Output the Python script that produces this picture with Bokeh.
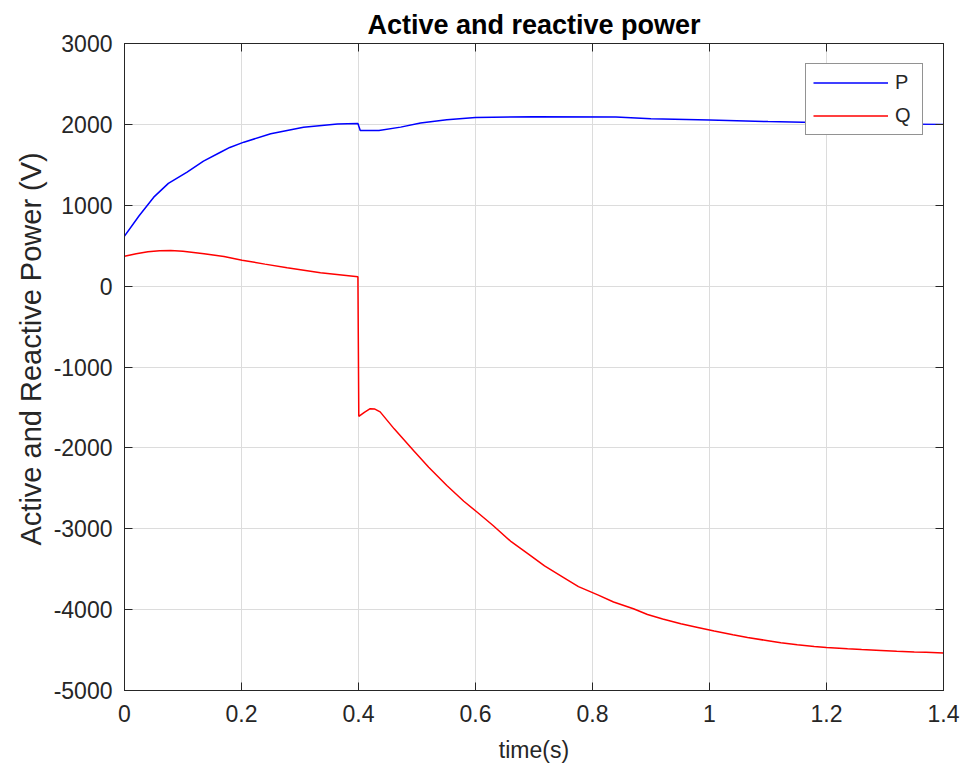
from bokeh.plotting import figure
from bokeh.models import LinearAxis, Range1d, Legend, LegendItem, FixedTicker, Title
from bokeh.embed import file_html
from bokeh.resources import INLINE

# ---- data ----
t_p = [0.0, 0.025, 0.05, 0.075, 0.107, 0.135, 0.164, 0.18, 0.204, 0.25, 0.306,
       0.364, 0.399, 0.403, 0.435, 0.472, 0.506, 0.551, 0.6, 0.7, 0.84, 0.9,
       1.0, 1.1, 1.2, 1.3, 1.4]
p_vals = [620, 870, 1100, 1270, 1410, 1545, 1655, 1715, 1780, 1883, 1965,
          2005, 2012, 1925, 1925, 1966, 2016, 2057, 2085, 2095, 2090, 2070,
          2055, 2035, 2020, 2005, 2000]

t_q = [0.0, 0.02, 0.04, 0.06, 0.079, 0.1, 0.136, 0.17, 0.201, 0.24, 0.278,
       0.335, 0.399, 0.4005, 0.41, 0.42, 0.428, 0.437, 0.461, 0.494, 0.52,
       0.551, 0.58, 0.603, 0.63, 0.661, 0.69, 0.718, 0.75, 0.776, 0.81, 0.836,
       0.87, 0.894, 0.92, 0.951, 0.98, 1.008, 1.04, 1.065, 1.1, 1.122, 1.15,
       1.179, 1.2, 1.236, 1.26, 1.293, 1.32, 1.35, 1.37, 1.4]
q_vals = [370, 400, 425, 438, 441, 432, 400, 365, 321, 272, 226,
          165, 115, -1610, -1560, -1515, -1520, -1555, -1765, -2033, -2240,
          -2466, -2660, -2796, -2960, -3160, -3310, -3460, -3600, -3715, -3820, -3905,
          -3990, -4060, -4115, -4175, -4220, -4265, -4310, -4345, -4385, -4410, -4435,
          -4455, -4468, -4485, -4494, -4505, -4514, -4523, -4528, -4535]

x_ticks = [0, 0.2, 0.4, 0.6, 0.8, 1.0, 1.2, 1.4]
x_tick_labels = ["0", "0.2", "0.4", "0.6", "0.8", "1", "1.2", "1.4"]
y_ticks = [-5000, -4000, -3000, -2000, -1000, 0, 1000, 2000, 3000]
y_tick_labels = ["-5000", "-4000", "-3000", "-2000", "-1000", "0", "1000", "2000", "3000"]

FONT = "Liberation Sans"
TXT = "#262626"

p = figure(width=966, height=773, output_backend="svg", toolbar_location=None,
           x_range=Range1d(0, 1.4), y_range=Range1d(-5000, 3000),
           min_border_left=124, min_border_right=23, min_border_top=43,
           min_border_bottom=83, background_fill_color="white",
           border_fill_color="white")

p.title.text = "Active and reactive power"
p.title.align = "center"
p.title.vertical_align = "top"
p.title.text_font = FONT
p.title.text_font_size = "27px"
p.title.text_font_style = "bold"
p.title.text_color = "black"
p.title.standoff = 4

p.outline_line_color = TXT
p.outline_line_width = 1

for ax in (p.xaxis[0], p.yaxis[0]):
    ax.major_tick_in = 8
    ax.major_tick_out = 0
    ax.minor_tick_line_color = None
    ax.axis_line_color = TXT
    ax.major_tick_line_color = TXT
    ax.major_label_text_font = FONT
    ax.major_label_text_font_size = "23px"
    ax.major_label_text_color = TXT
    ax.axis_label_text_font = FONT
    ax.axis_label_text_font_size = "23px"
    ax.axis_label_text_font_style = "normal"
    ax.axis_label_text_color = TXT

p.xaxis[0].ticker = FixedTicker(ticks=x_ticks)
p.xaxis[0].major_label_overrides = dict(zip(x_ticks, x_tick_labels))
p.yaxis[0].ticker = FixedTicker(ticks=y_ticks)
p.yaxis[0].major_label_overrides = dict(zip(y_ticks, y_tick_labels))
p.xaxis[0].axis_label = "time(s)"
p.xaxis[0].major_label_standoff = 14
p.yaxis[0].major_label_standoff = 12
p.xaxis[0].axis_label_standoff = 12

# y-axis label as a left title so it can be placed like the reference
ylab = Title(text="Active and Reactive Power (V)", align="left", offset=145,
             vertical_align="top",
             text_font=FONT, text_font_size="29px", text_font_style="normal",
             text_color=TXT, standoff=4)
p.add_layout(ylab, "left")

# mirrored ticks on top / right (MATLAB box style), labels hidden
top = LinearAxis(ticker=FixedTicker(ticks=x_ticks))
right = LinearAxis(ticker=FixedTicker(ticks=y_ticks))
for ax in (top, right):
    ax.major_tick_in = 8
    ax.major_tick_out = 0
    ax.minor_tick_line_color = None
    ax.axis_line_color = TXT
    ax.major_tick_line_color = TXT
    ax.major_label_text_font_size = "0px"
    ax.major_label_text_color = None
    ax.major_label_standoff = 0
p.add_layout(top, "above")
p.add_layout(right, "right")

p.xgrid.ticker = FixedTicker(ticks=x_ticks)
p.ygrid.ticker = FixedTicker(ticks=y_ticks)
p.grid.grid_line_color = "#dcdcdc"
p.grid.grid_line_width = 1

rp = p.line(t_p, p_vals, line_color="#0000ff", line_width=1.5)
rq = p.line(t_q, q_vals, line_color="#ff0000", line_width=1.5)

legend = Legend(items=[LegendItem(label="P", renderers=[rp]),
                       LegendItem(label="Q", renderers=[rq])],
                location="top_right", margin=20, padding=7, spacing=10,
                glyph_width=75, glyph_height=21, label_height=21,
                label_width=20, label_standoff=7,
                label_text_font=FONT, label_text_font_size="20px",
                label_text_color=TXT, border_line_color=TXT,
                border_line_width=1, background_fill_color="white",
                background_fill_alpha=1)
p.add_layout(legend)

open("out.html", "w").write(file_html(p, INLINE))
